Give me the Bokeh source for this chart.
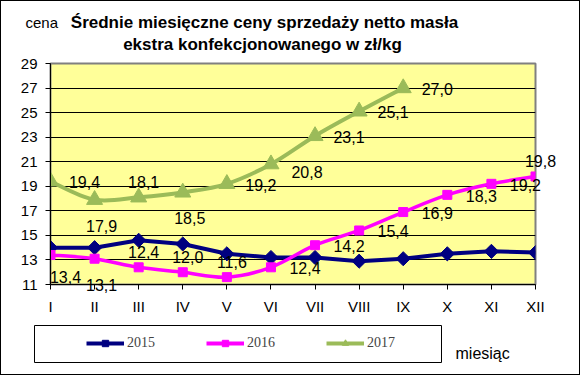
import numpy as np
from bokeh.plotting import figure
from bokeh.layouts import column
from bokeh.models import (Range1d, FixedTicker, Legend, LegendItem, ColumnDataSource)
from bokeh.embed import file_html
from bokeh.resources import INLINE
from bokeh.core.properties import value

# ---- data ----
months = ["I", "II", "III", "IV", "V", "VI", "VII", "VIII", "IX", "X", "XI", "XII"]
y2015 = [14.0, 14.0, 14.6, 14.3, 13.5, 13.2, 13.2, 12.9, 13.1, 13.5, 13.7, 13.6]
y2016 = [13.4, 13.1, 12.4, 12.0, 11.6, 12.4, 14.2, 15.4, 16.9, 18.3, 19.2, 19.8]
y2017 = [19.4, 17.9, 18.1, 18.5, 19.2, 20.8, 23.1, 25.1, 27.0]
y_ticks = [11, 13, 15, 17, 19, 21, 23, 25, 27, 29]
series_names = ["2015", "2016", "2017"]
title_1 = "Średnie miesięczne ceny sprzedaży netto masła"
title_2 = "ekstra konfekcjonowanego w zł/kg"
y_title = "cena"
x_title = "miesiąc"
# label placement keywords for data labels
pos2016 = ["belowright", "below", "above", "above", "above", "right",
           "right", "right", "right", "right", "right", "above"]
pos2017 = ["right", "below", "above", "below", "right", "rightlow",
           "right", "right", "right"]

FONT = "Liberation Sans"
C15, C16, C17 = "#000080", "#FF00FF", "#9BBB59"
W = 578
BL, BR = 49, 44   # side borders shared by all stacked figures (frames align)


def blank(height, y0, y1):
    # page-pixel coordinate system; frame spans page x 50..535
    f = figure(width=W, height=height, output_backend="svg", toolbar_location=None,
               x_range=Range1d(50, 535), y_range=Range1d(y1, y0),
               x_axis_type=None, y_axis_type=None, min_border_left=BL,
               min_border_right=BR, min_border_top=0, min_border_bottom=0)
    f.grid.visible = False
    f.outline_line_color = None
    f.background_fill_color = "white"
    f.border_fill_color = "white"
    return f


# ---------- header ----------
h = blank(53, 1, 54)
h.text([25], [22], text=[y_title], text_align="left", text_baseline="middle",
       text_font=value(FONT), text_font_size="15px", text_color="black",
       level="overlay")
h.text([264, 262], [22, 44], text=[title_1, title_2], text_align="center",
       text_baseline="middle", text_font=value(FONT), text_font_size="17px",
       text_font_style="bold", text_color="black", level="overlay")

# ---------- main chart ----------
p = figure(width=W, height=264, output_backend="svg", toolbar_location=None,
           x_range=Range1d(1, 12), y_range=Range1d(11, 29),
           min_border_left=BL, min_border_right=BR, min_border_top=9,
           min_border_bottom=34)
p.background_fill_color = "#FFFF99"
p.border_fill_color = "white"
p.outline_line_color = "#808080"
p.outline_line_width = 2

p.xgrid.visible = False
p.ygrid.ticker = FixedTicker(ticks=y_ticks)
p.ygrid.grid_line_color = "black"
p.ygrid.grid_line_width = 1

for ax in (p.xaxis[0], p.yaxis[0]):
    ax.axis_line_color = "black"
    ax.axis_line_width = 1
    ax.major_tick_line_color = "black"
    ax.major_tick_in = 0
    ax.major_tick_out = 5
    ax.minor_tick_line_color = None
    ax.major_label_text_font = FONT
    ax.major_label_text_font_size = "15px"
    ax.major_label_text_color = "black"
p.yaxis.ticker = FixedTicker(ticks=y_ticks)
p.yaxis.major_label_standoff = 8
p.xaxis.ticker = FixedTicker(ticks=list(range(1, 13)))
p.xaxis.major_label_overrides = {i + 1: m for i, m in enumerate(months)}
p.xaxis.major_label_standoff = 8


def smooth(ys, color, width):
    xs = np.arange(1, len(ys) + 1, dtype=float)
    yv = np.asarray(ys, dtype=float)
    n = len(xs)
    xp = np.concatenate([[xs[0]], xs, [xs[-1]]])
    yp = np.concatenate([[yv[0]], yv, [yv[-1]]])
    x0, y0 = xs[:-1], yv[:-1]
    x1, y1 = xs[1:], yv[1:]
    cx0 = x0 + (xp[2:n + 1] - xp[0:n - 1]) / 6
    cy0 = y0 + (yp[2:n + 1] - yp[0:n - 1]) / 6
    cx1 = x1 - (xp[3:n + 2] - xp[1:n]) / 6
    cy1 = y1 - (yp[3:n + 2] - yp[1:n]) / 6
    return p.bezier(x0=x0, y0=y0, x1=x1, y1=y1, cx0=cx0, cy0=cy0, cx1=cx1,
                    cy1=cy1, line_color=color, line_width=width)


x15 = list(range(1, len(y2015) + 1))
x16 = list(range(1, len(y2016) + 1))
x17 = list(range(1, len(y2017) + 1))

p.line(x15, y2015, line_color=C15, line_width=4)
p.scatter(x15, y2015, marker="square", angle=np.pi / 4, size=10,
          fill_color=C15, line_color=C15)
smooth(y2016, C16, 3.5)
p.scatter(x16, y2016, marker="square", size=9, fill_color=C16, line_color=C16)
smooth(y2017, C17, 4)
p.scatter(x17, y2017, marker="triangle", size=16, fill_color=C17, line_color=C17)

OFFS = {"right": (34, 1), "rightlow": (36, 8), "below": (7, 26),
        "above": (5, -15), "belowright": (15, 22)}


def labels(xs, ys, pos):
    src = ColumnDataSource(dict(
        x=xs, y=ys,
        t=[f"{v:.1f}".replace(".", ",") for v in ys],
        dx=[OFFS[k][0] for k in pos],
        dy=[OFFS[k][1] for k in pos]))
    p.text("x", "y", text="t", source=src, x_offset="dx", y_offset="dy",
           text_align="center", text_baseline="middle", level="overlay",
           text_font=value(FONT), text_font_size="16px", text_color="black")


labels(x16, y2016, pos2016)
labels(x17, y2017, pos2017)

# ---------- footer (legend + x title) ----------
f = blank(56, 318, 374)
f.quad(left=[34], right=[441], top=[325], bottom=[362], fill_alpha=0,
       line_color="black", line_width=1, level="overlay")
lg = []
for name, col, mk, ang in zip(series_names, [C15, C16, C17],
                              ["square", "square", "triangle"], [np.pi / 4, 0, 0]):
    r1 = f.line(x=[-1000, -999], y=[-1000, -999], line_color=col, line_width=4)
    r2 = f.scatter(x=[-1000], y=[-1000], marker=mk, angle=ang, fill_color=col,
                   line_color=col)
    lg.append(LegendItem(label=name, renderers=[r1, r2]))
legend = Legend(items=lg, orientation="horizontal", location=(36, 23), spacing=51,
                glyph_width=38, glyph_height=16, label_height=16, label_standoff=3,
                padding=0, margin=0, border_line_alpha=0, background_fill_alpha=0,
                label_text_font="Liberation Serif", label_text_font_size="14px")
f.add_layout(legend)
f.text([455], [353], text=[x_title], text_align="left", text_baseline="middle",
       text_font=value(FONT), text_font_size="16px", text_color="black",
       level="overlay")

layout = column(h, p, f, spacing=0, styles={"border": "1px solid black"})

open("out.html", "w").write(file_html(layout, INLINE))
